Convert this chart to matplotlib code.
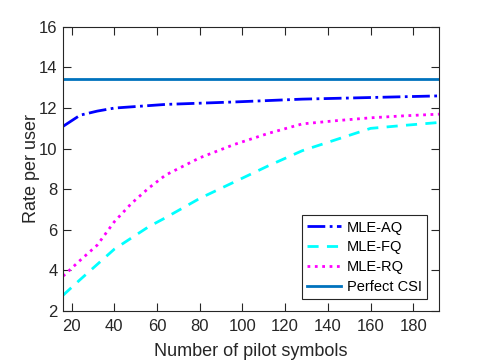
import matplotlib.pyplot as plt

plt.rcParams['font.family'] = ['Liberation Sans', 'DejaVu Sans']

# data
pilots = [16, 24, 32, 40, 48, 56, 64, 80, 96, 112, 128, 144, 160, 176, 192]
mle_aq = [11.1, 11.65, 11.85, 12.0, 12.06, 12.12, 12.18, 12.24, 12.3, 12.37, 12.44, 12.48, 12.52, 12.56, 12.6]
mle_fq = [2.78, 3.55, 4.3, 5.05, 5.6, 6.15, 6.6, 7.55, 8.35, 9.15, 9.9, 10.45, 11.0, 11.15, 11.29]
mle_rq = [3.72, 4.5, 5.25, 6.4, 7.3, 8.05, 8.7, 9.55, 10.2, 10.75, 11.22, 11.38, 11.52, 11.62, 11.7]
perfect_csi = 13.44

xticks = [20, 40, 60, 80, 100, 120, 140, 160, 180]
yticks = [2, 4, 6, 8, 10, 12, 14, 16]

fig = plt.figure(figsize=(4.85, 3.63), dpi=100)
ax = fig.add_axes([0.130, 0.143, 0.775, 0.783])

ax.plot(pilots, mle_aq, '-.', color='blue', lw=2, label='MLE-AQ')
ax.plot(pilots, mle_fq, '--', color='cyan', lw=2, label='MLE-FQ', dashes=(4, 3))
ax.plot(pilots, mle_rq, ':', color='magenta', lw=2, label='MLE-RQ')
ax.plot([pilots[0], pilots[-1]], [perfect_csi, perfect_csi], '-', color=(0, 0.447, 0.741),
        lw=2, label='Perfect CSI')

ax.set_xlim(16, 192)
ax.set_ylim(2, 16)
ax.set_xticks(xticks)
ax.set_yticks(yticks)
ax.tick_params(direction='in', top=True, right=True, length=6, width=0.8,
               labelsize=12, colors=(0.15, 0.15, 0.15))
ax.tick_params(axis='x', pad=6)
ax.tick_params(axis='y', pad=4)
for s in ax.spines.values():
    s.set_color((0.15, 0.15, 0.15))
    s.set_linewidth(0.8)

ax.set_xlabel('Number of pilot symbols', fontsize=13, color=(0.15, 0.15, 0.15), labelpad=6)
ax.set_ylabel('Rate per user', fontsize=13, color=(0.15, 0.15, 0.15), labelpad=-1)

leg = ax.legend(loc='lower right', fontsize=10.5, fancybox=False, framealpha=1,
                edgecolor=(0.15, 0.15, 0.15), handlelength=2.3, borderpad=0.35,
                labelspacing=0.4, handletextpad=0.4, borderaxespad=0,
                bbox_to_anchor=(0.968, 0.042))
leg.get_frame().set_linewidth(0.8)

fig.savefig('out.png', dpi=100)
